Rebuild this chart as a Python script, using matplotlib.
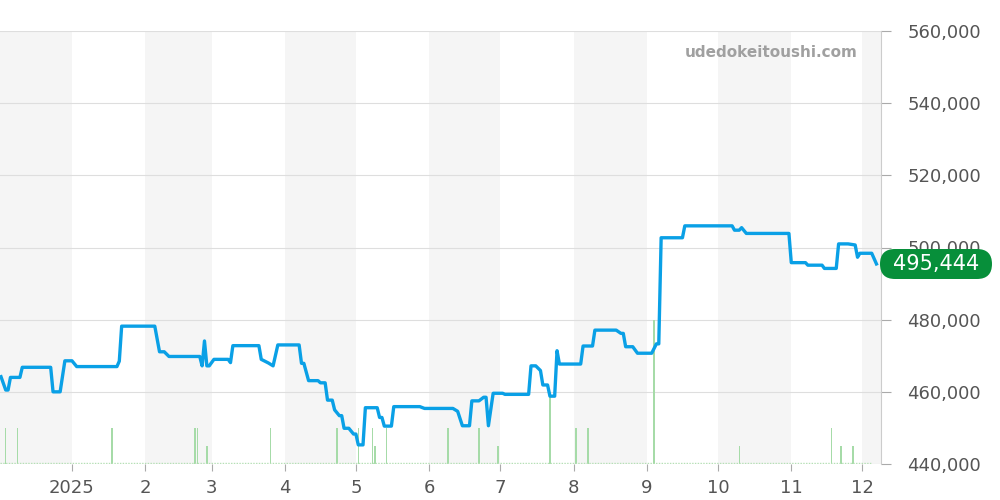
import numpy as np
import pandas as pd
import matplotlib.pyplot as plt
from matplotlib.ticker import FuncFormatter
from matplotlib.patches import FancyBboxPatch

# price line (date, yen)
price_dates = ['2024-12-02', '2024-12-04', '2024-12-05', '2024-12-06', '2024-12-10', '2024-12-11',
               '2024-12-23', '2024-12-24', '2024-12-27', '2024-12-29', '2025-01-01', '2025-01-03',
               '2025-01-20', '2025-01-21', '2025-01-22', '2025-02-05', '2025-02-07', '2025-02-09',
               '2025-02-11', '2025-02-24', '2025-02-25', '2025-02-26', '2025-02-27', '2025-02-28',
               '2025-03-02', '2025-03-08', '2025-03-09', '2025-03-10', '2025-03-21', '2025-03-22',
               '2025-03-25', '2025-03-27', '2025-03-29', '2025-04-07', '2025-04-08', '2025-04-09',
               '2025-04-11', '2025-04-15', '2025-04-16', '2025-04-18', '2025-04-19', '2025-04-21',
               '2025-04-22', '2025-04-24', '2025-04-25', '2025-04-26', '2025-04-28', '2025-04-30',
               '2025-05-01', '2025-05-02', '2025-05-04', '2025-05-05', '2025-05-10', '2025-05-11',
               '2025-05-12', '2025-05-13', '2025-05-16', '2025-05-17', '2025-05-28', '2025-05-30',
               '2025-06-11', '2025-06-13', '2025-06-15', '2025-06-18', '2025-06-19', '2025-06-22',
               '2025-06-24', '2025-06-25', '2025-06-26', '2025-06-28', '2025-07-02', '2025-07-03',
               '2025-07-13', '2025-07-14', '2025-07-16', '2025-07-18', '2025-07-19', '2025-07-21',
               '2025-07-22', '2025-07-24', '2025-07-25', '2025-07-26', '2025-08-04', '2025-08-05',
               '2025-08-09', '2025-08-10', '2025-08-19', '2025-08-21', '2025-08-22', '2025-08-23',
               '2025-08-26', '2025-08-28', '2025-09-03', '2025-09-05', '2025-09-06', '2025-09-07',
               '2025-09-16', '2025-09-17', '2025-10-07', '2025-10-08', '2025-10-10', '2025-10-11',
               '2025-10-13', '2025-10-31', '2025-11-01', '2025-11-07', '2025-11-08', '2025-11-14',
               '2025-11-15', '2025-11-20', '2025-11-21', '2025-11-25', '2025-11-28', '2025-11-29',
               '2025-11-30', '2025-12-05', '2025-12-07']
price_values = [464200, 460500, 460500, 464000, 464000, 466800,
                466800, 460000, 460000, 468600, 468600, 467000,
                467000, 468500, 478200, 478200, 471100, 471100,
                469800, 469800, 467200, 474100, 467200, 467200,
                469000, 469000, 468100, 472800, 472800, 469000,
                468000, 467200, 473000, 473000, 467900, 467900,
                463100, 463100, 462500, 462500, 457700, 457700,
                455000, 453400, 453400, 449900, 449900, 448300,
                448300, 445300, 445300, 455600, 455600, 452900,
                452900, 450500, 450500, 455900, 455900, 455400,
                455400, 454600, 450600, 450600, 457500, 457500,
                458500, 458500, 450600, 459600, 459600, 459300,
                459300, 467200, 467200, 465900, 461900, 461900,
                458800, 458800, 471400, 467700, 467700, 472700,
                472700, 477100, 477100, 476200, 476200, 472500,
                472500, 470700, 470700, 473300, 473300, 502700,
                502700, 506000, 506000, 504800, 504800, 505500,
                503900, 503900, 495800, 495800, 495100, 495100,
                494200, 494200, 501000, 501000, 500700, 497300,
                498400, 498400, 495444]

# trade counts
vol_dates = ['2024-12-04', '2024-12-09', '2025-01-18', '2025-02-22', '2025-02-23', '2025-02-27',
             '2025-03-26', '2025-04-23', '2025-05-02', '2025-05-08', '2025-05-09', '2025-05-14',
             '2025-06-09', '2025-06-22', '2025-06-30', '2025-07-22', '2025-08-02', '2025-08-07',
             '2025-09-04', '2025-10-10', '2025-11-18', '2025-11-22', '2025-11-27']
vol_values = [2, 2, 2, 2, 2, 1,
              2, 2, 2, 2, 1, 2,
              2, 2, 1, 4, 2, 2,
              8, 1, 2, 1, 1]

last_label = '495,444'
yticks = [440000, 460000, 480000, 500000, 520000, 540000, 560000]
month_ticks = ['2025-01-01', '2025-02-01', '2025-03-01', '2025-04-01', '2025-05-01', '2025-06-01',
               '2025-07-01', '2025-08-01', '2025-09-01', '2025-10-01', '2025-11-01', '2025-12-01']
month_labels = ['2025', '2', '3', '4', '5', '6', '7', '8', '9', '10', '11', '12']
band_starts = ['2024-12-01', '2025-02-01', '2025-04-01', '2025-06-01', '2025-08-01', '2025-10-01', '2025-12-01']
band_ends = ['2025-01-01', '2025-03-01', '2025-05-01', '2025-07-01', '2025-09-01', '2025-11-01', '2026-01-01']

xmin = pd.Timestamp('2024-12-01 14:00')
xmax = pd.Timestamp('2025-12-08 22:00')

fig = plt.figure(figsize=(10, 5), dpi=100)
ax = fig.add_axes([0.0, 0.072, 0.881, 0.866])
ax2 = ax.twinx()   # volume
ax3 = ax.twinx()   # price

for s, e in zip(band_starts, band_ends):
    ax.axvspan(pd.Timestamp(s), pd.Timestamp(e), color='#f5f5f5', lw=0, zorder=0)

ax.set_ylim(440000, 560000)
ax.set_xlim(xmin, xmax)
ax.set_yticks(yticks)
ax.grid(axis='y', color='#dedede', lw=0.8, zorder=1)
ax.yaxis.tick_right()
ax.yaxis.set_label_position('right')
ax.yaxis.set_major_formatter(FuncFormatter(lambda v, p: f'{int(v):,}'))
ax.tick_params(axis='y', length=7, color='#aaaaaa', labelsize=13, labelcolor='#555555', pad=12)
ax.set_xticks([pd.Timestamp(m) for m in month_ticks])
ax.set_xticklabels(month_labels)
ax.tick_params(axis='x', length=5, color='#aaaaaa', labelsize=13, labelcolor='#555555', pad=6)
for sp in ['top', 'left', 'bottom']:
    ax.spines[sp].set_visible(False)
ax.spines['right'].set_color('#cccccc')

ax2.set_ylim(0, 24)
ax2.set_xlim(xmin, xmax)
ax2.bar(pd.to_datetime(vol_dates), vol_values, width=0.6, color='#a6dba8', zorder=2)
ax2.hlines(0.05, xmin, pd.Timestamp('2025-12-05'), colors='#b5e0b5',
           linestyles=(0, (1, 1)), lw=1.0)
ax2.set_yticks([])
for sp in ax2.spines.values():
    sp.set_visible(False)

ax3.set_ylim(440000, 560000)
ax3.set_xlim(xmin, xmax)
ax3.plot(pd.to_datetime(price_dates), price_values, color='#0aa0e6', lw=2.4, zorder=3,
         solid_joinstyle='round')
ax3.set_yticks([])
for sp in ax3.spines.values():
    sp.set_visible(False)

ax.text(0.973, 0.95, 'udedokeitoushi.com', transform=ax.transAxes, ha='right', va='center',
        fontsize=11, fontweight='bold', color='#a0a0a0')

# last price badge (pixel units)
badge = FancyBboxPatch((880, 221), 112, 30, boxstyle='round,pad=0,rounding_size=15',
                       transform=None, fc='#078f3a', ec='none', zorder=5)
fig.patches.append(badge)
fig.text(936 / 1000, 1 - 264 / 500, last_label, ha='center', va='center', fontsize=15,
         color='white', zorder=6)

fig.savefig('out.png', dpi=100)
